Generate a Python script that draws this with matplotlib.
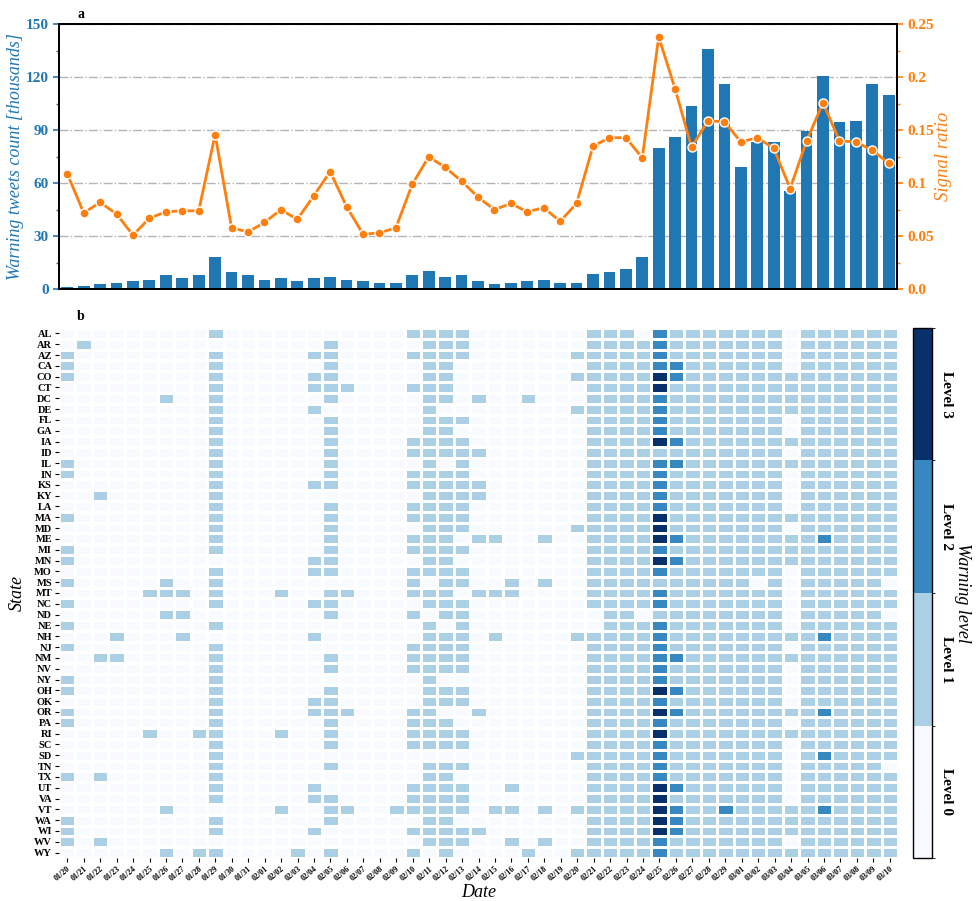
import matplotlib
matplotlib.use('Agg')
import matplotlib.pyplot as plt
import numpy as np
import pandas as pd
from matplotlib.colors import ListedColormap, BoundaryNorm
from matplotlib.ticker import MultipleLocator

plt.rcParams['font.family'] = ['Liberation Serif', 'DejaVu Serif']
plt.rcParams['mathtext.default'] = 'regular'

BLUE = '#1f77b4'
ORANGE = '#ff7f0e'

# x axis: one column per day
dates = pd.date_range('2020-01-20', '2020-03-10').strftime('%m/%d').tolist()

# panel a
tweets_k = [1.1, 2.1, 2.7, 3.8, 4.4, 5.5, 8.3, 6.1, 8.3, 18.0,
            9.5, 7.8, 5.5, 6.1, 4.9, 6.1, 7.2, 5.5, 4.9, 3.8,
            3.8, 7.8, 10.6, 7.2, 8.3, 4.9, 3.2, 3.8, 4.9, 5.5,
            3.8, 3.8, 8.9, 10.0, 11.7, 18.5, 79.8, 86.0, 103.6, 136.0,
            116.0, 69.0, 83.2, 83.2, 55.4, 89.4, 120.7, 94.6, 95.1, 116.0,
            109.9]

signal_ratio = [0.109, 0.072, 0.082, 0.071, 0.051, 0.067, 0.073, 0.074, 0.074, 0.146,
                0.058, 0.054, 0.063, 0.075, 0.066, 0.088, 0.111, 0.078, 0.052, 0.053,
                0.058, 0.099, 0.125, 0.115, 0.102, 0.087, 0.075, 0.081, 0.073, 0.077,
                0.064, 0.081, 0.135, 0.143, 0.143, 0.124, 0.238, 0.189, 0.134, 0.159,
                0.158, 0.139, 0.143, 0.133, 0.095, 0.140, 0.176, 0.140, 0.139, 0.131,
                0.119]

left_ticks = [0, 30, 60, 90, 120, 150]
right_ticks = [0.0, 0.05, 0.1, 0.15, 0.2, 0.25]
right_tick_labels = ['0.0', '0.05', '0.1', '0.15', '0.2', '0.25']

# panel b
states = ['AL', 'AR', 'AZ', 'CA', 'CO', 'CT', 'DC', 'DE', 'FL', 'GA',
          'IA', 'ID', 'IL', 'IN', 'KS', 'KY', 'LA', 'MA', 'MD', 'ME',
          'MI', 'MN', 'MO', 'MS', 'MT', 'NC', 'ND', 'NE', 'NH', 'NJ',
          'NM', 'NV', 'NY', 'OH', 'OK', 'OR', 'PA', 'RI', 'SC', 'SD',
          'TN', 'TX', 'UT', 'VA', 'VT', 'WA', 'WI', 'WV', 'WY']

# one string per state, one digit (warning level) per day, grouped by 8 days
warning_levels = [
    '00000000 01000000 00000111 10000000 11102111 11110111 111',  # AL
    '01000000 00000000 10000011 10000000 11112111 11110111 111',  # AR
    '10000000 01000001 10000111 10000001 11112111 11110111 111',  # AZ
    '10000000 01000000 10000011 00000000 11112211 11110111 111',  # CA
    '10000000 01000001 10000011 00000001 11113211 11111111 111',  # CO
    '00000000 01000001 11000111 00000000 11113111 11111111 111',  # CT
    '00000010 01000000 10000011 01001000 11112111 11111111 111',  # DC
    '00000000 01000001 00000010 00000001 11112111 11111111 111',  # DE
    '00000000 01000000 10000011 10000000 11112111 11110111 111',  # FL
    '00000000 01000000 10000011 00000000 11112111 11110111 111',  # GA
    '00000000 01000000 10000111 10000000 11113211 11111111 111',  # IA
    '00000000 01000000 10000111 11000000 11111111 11110111 111',  # ID
    '10000000 01000000 10000010 10000000 11112211 11111111 111',  # IL
    '10000000 01000000 10000111 10000000 11112111 11110111 111',  # IN
    '00000000 01000001 10000111 11000000 11112111 11110111 111',  # KS
    '00100000 01000000 00000011 11000000 11112111 11110111 111',  # KY
    '00000000 01000000 10000111 10000000 11112111 11110111 111',  # LA
    '10000000 01000000 10000111 10000000 11113111 11111111 111',  # MA
    '00000000 01000000 10000011 10000001 11113111 11110111 111',  # MD
    '00000000 01000000 10000111 01100100 11113211 11111121 111',  # ME
    '10000000 01000000 10000111 10000000 11112111 11111111 111',  # MI
    '10000000 00000001 10000011 00000000 11113211 11111111 111',  # MN
    '00000000 01000001 10000111 10000000 11112111 11110111 111',  # MO
    '10000010 01000000 00000101 10010100 11111111 11010111 110',  # MS
    '00000111 01000100 11000111 01110000 11112111 11110111 111',  # MT
    '10000000 01000001 10000011 10000000 11112111 11110111 111',  # NC
    '00000011 00000000 10000101 10000000 01101111 11110111 110',  # ND
    '10000000 01000000 00000010 10000000 01112111 11110111 111',  # NE
    '00010001 00000001 00000011 10100001 11112111 11111121 111',  # NH
    '10000000 01000000 00000111 10000000 11112111 11110111 111',  # NJ
    '00110000 01000000 10000111 10000000 11112211 11111111 111',  # NM
    '00000000 01000000 10000111 10000000 11112111 11110111 111',  # NV
    '10000000 01000000 00000010 00000000 11112111 11110111 111',  # NY
    '10000000 01000000 10000011 10000000 11113211 11110111 111',  # OH
    '00000000 01000001 10000011 10000000 11112111 11110111 111',  # OK
    '10000000 01000001 11000110 01000000 11113211 11111121 111',  # OR
    '10000000 01000000 10000111 00000000 11112111 11110111 111',  # PA
    '00000100 11000100 10000111 10000000 11113111 11111111 111',  # RI
    '00000000 01000000 10000111 10000000 11112111 11110111 111',  # SC
    '00000000 01000000 00000000 00000001 11112111 11110121 111',  # SD
    '00000000 01000000 10000011 10000000 11112111 11110111 110',  # TN
    '10100000 01000000 00000011 00000000 11112111 11110111 111',  # TX
    '00000000 01000001 00000111 10010000 11113211 11110111 111',  # UT
    '00000000 01000001 10000111 10000000 11113111 11110111 111',  # VA
    '00000010 00000100 11001111 10110101 11113211 21111121 111',  # VT
    '10000000 01000000 10000011 00000000 11113211 11111111 111',  # WA
    '10000000 01000001 00000111 11000000 11113211 11111111 111',  # WI
    '10100000 00000000 00000011 10010100 11112111 11110111 111',  # WV
    '00000010 11000010 10000101 00001001 11112111 11111111 111',  # WY
]
level_names = ['Level 0', 'Level 1', 'Level 2', 'Level 3']

levels = np.array([[int(ch) for ch in row.replace(' ', '')] for row in warning_levels])

fig = plt.figure(figsize=(9.76, 9.01), dpi=100)

# ---------------- panel a ----------------
ax1 = fig.add_axes([0.0605, 0.679, 0.8585, 0.294])
x = np.arange(len(dates)) + 0.5
ax1.bar(x, tweets_k, width=0.72, color=BLUE, zorder=2)
ax1.set_xlim(0, len(dates))
ax1.set_ylim(0, 150)
ax1.set_yticks(left_ticks)
ax1.yaxis.set_minor_locator(MultipleLocator(15))
ax1.set_xticks([])
ax1.set_axisbelow(True)
ax1.grid(axis='y', color='#b5b5b5', linestyle='-.', linewidth=1)
ax1.tick_params(axis='y', colors=BLUE, labelsize=11, length=4, width=1.2)
ax1.tick_params(axis='y', which='minor', colors=BLUE, length=2, width=1)
for lab in ax1.get_yticklabels():
    lab.set_fontweight('bold')
ax1.set_ylabel('Warning tweets count [thousands]', color=BLUE,
               fontsize=13, style='italic')
ax1.yaxis.set_label_coords(-0.042, 0.5)

ax1r = ax1.twinx()
ax1r.plot(x, signal_ratio, color=ORANGE, linewidth=2, marker='o',
          markersize=6.5, markeredgecolor='white', markeredgewidth=1)
ax1r.set_ylim(0, 0.25)
ax1r.set_yticks(right_ticks)
ax1r.set_yticklabels(right_tick_labels, fontweight='bold')
ax1r.yaxis.set_minor_locator(MultipleLocator(0.025))
ax1r.tick_params(axis='y', colors=ORANGE, labelsize=11, length=4, width=1.2)
ax1r.tick_params(axis='y', which='minor', colors=ORANGE, length=2, width=1)
ax1r.set_ylabel('Signal ratio', color=ORANGE, fontsize=13.5, style='italic',
                labelpad=1)
for a in (ax1, ax1r):
    for sp in a.spines.values():
        sp.set_color('black')
        sp.set_linewidth(1.4)

fig.text(77 / 976, 1 - 15 / 901, 'a', fontsize=10, fontweight='bold',
         ha='left', va='center')

# ---------------- panel b ----------------
cmap = ListedColormap(plt.cm.Blues(np.linspace(0, 1, 4)))
norm = BoundaryNorm([-0.5, 0.5, 1.5, 2.5, 3.5], cmap.N)

ax2 = fig.add_axes([0.0605, 0.0477, 0.8596, 0.5883])
mesh = ax2.pcolormesh(levels, cmap=cmap, norm=norm, edgecolors='white',
                      linewidth=1)
ax2.set_xlim(0, len(dates))
ax2.set_ylim(len(states), 0)
ax2.set_xticks(np.arange(len(dates)) + 0.5)
ax2.set_xticklabels(dates, rotation=40, ha='right', rotation_mode='anchor',
                    fontsize=5.8, fontweight='bold')
ax2.set_yticks(np.arange(len(states)) + 0.5)
ax2.set_yticklabels(states, fontsize=7.5, fontweight='bold')
ax2.tick_params(length=3, width=0.8, pad=2)
for sp in ax2.spines.values():
    sp.set_visible(False)
ax2.set_xlabel('Date', fontsize=13, style='italic', labelpad=1)
ax2.set_ylabel('State', fontsize=13, style='italic', labelpad=6)

fig.text(77 / 976, 1 - 316 / 901, 'b', fontsize=10, fontweight='bold',
         ha='left', va='center')

cax = fig.add_axes([0.9355, 0.0477, 0.0195, 0.5883])
cb = fig.colorbar(mesh, cax=cax, ticks=[0, 1, 2, 3])
cb.ax.set_yticklabels(level_names, rotation=270, va='center',
                      fontsize=11, fontweight='bold')
cb.ax.tick_params(length=0, pad=6)
cb.outline.set_linewidth(1)
cb.set_label('Warning level', rotation=270, fontsize=13, style='italic',
             labelpad=13)

fig.savefig('out.png', dpi=100)
